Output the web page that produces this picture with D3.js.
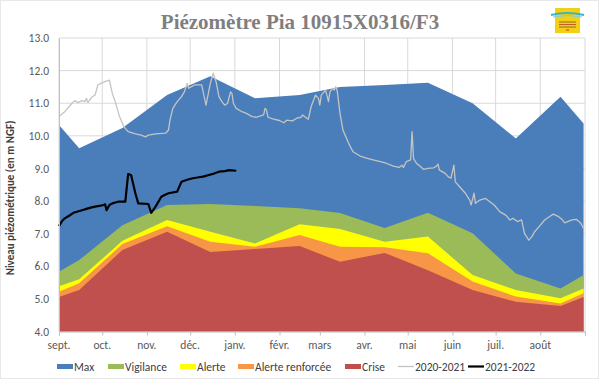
<!DOCTYPE html>
<html><head><meta charset="utf-8">
<script src="https://cdn.jsdelivr.net/npm/d3@7"></script>
<style>
html,body{margin:0;padding:0;background:#fff;}
svg{display:block;}
</style></head>
<body>
<svg id="chart" width="600" height="380"></svg>
<script>
// ---------- DATA ----------
const monthLabels = ['sept.','oct.','nov.','déc.','janv.','févr.','mars','avr.','mai','juin','juil.','août'];
const yTicks = [4,5,6,7,8,9,10,11,12,13];

const thresholdDates = ['2021-09-01','2021-09-15','2021-10-15','2021-11-15','2021-12-15','2022-01-15','2022-02-15','2022-03-15','2022-04-15','2022-05-15','2022-06-15','2022-07-15','2022-08-15','2022-08-31'];
const maxValues       = [10.33, 9.62, 10.24, 11.25, 11.83, 11.15, 11.25, 11.5, 11.56, 11.63, 11.0, 9.92, 11.2, 10.38];
const vigilanceValues = [5.83, 6.19, 7.26, 7.88, 7.91, 7.85, 7.78, 7.63, 7.17, 7.64, 7.01, 5.78, 5.32, 5.73];
const alerteValues    = [5.39, 5.6, 6.78, 7.42, 7.06, 6.7, 7.29, 7.14, 6.75, 6.91, 5.73, 5.27, 5.02, 5.32];
const renforceeValues = [5.22, 5.48, 6.68, 7.23, 6.75, 6.6, 6.96, 6.6, 6.58, 6.4, 5.53, 5.07, 4.86, 5.17];
const criseValues     = [5.06, 5.27, 6.5, 7.06, 6.44, 6.53, 6.62, 6.14, 6.41, 5.88, 5.27, 4.91, 4.78, 5.06];

const dates2021 = ['2020-09-01','2020-09-05','2020-09-10','2020-09-12','2020-09-14','2020-09-17','2020-09-19','2020-09-20','2020-09-21','2020-09-24','2020-09-26','2020-09-28','2020-09-30',
'2020-10-03','2020-10-05','2020-10-06','2020-10-08','2020-10-10','2020-10-13','2020-10-16','2020-10-19','2020-10-24','2020-10-28','2020-10-31',
'2020-11-02','2020-11-07','2020-11-14','2020-11-16','2020-11-17','2020-11-19','2020-11-22','2020-11-25','2020-11-27','2020-11-29','2020-11-30',
'2020-12-02','2020-12-04','2020-12-09','2020-12-12','2020-12-15','2020-12-17','2020-12-19','2020-12-21','2020-12-23','2020-12-25','2020-12-27','2020-12-29','2020-12-30','2020-12-31',
'2021-01-02','2021-01-06','2021-01-09','2021-01-13','2021-01-16','2021-01-21','2021-01-22','2021-01-23','2021-01-24','2021-01-28',
'2021-02-01','2021-02-04','2021-02-06','2021-02-10','2021-02-13','2021-02-16','2021-02-17','2021-02-19','2021-02-21','2021-02-23','2021-02-26','2021-02-28',
'2021-03-01','2021-03-02','2021-03-05','2021-03-07','2021-03-08','2021-03-10','2021-03-11','2021-03-12','2021-03-13','2021-03-15','2021-03-17','2021-03-21','2021-03-24','2021-03-29',
'2021-04-03','2021-04-07','2021-04-12','2021-04-16','2021-04-21','2021-04-25','2021-04-27','2021-04-28','2021-04-30',
'2021-05-03','2021-05-04','2021-05-05','2021-05-07','2021-05-10','2021-05-12','2021-05-15','2021-05-19','2021-05-21','2021-05-22','2021-05-23','2021-05-27','2021-05-29','2021-05-31',
'2021-06-02','2021-06-03','2021-06-06','2021-06-10','2021-06-13','2021-06-14','2021-06-16','2021-06-17','2021-06-20','2021-06-24','2021-06-27','2021-06-30',
'2021-07-04','2021-07-08','2021-07-11','2021-07-13','2021-07-16','2021-07-19','2021-07-21','2021-07-24','2021-07-26','2021-07-28','2021-07-31',
'2021-08-04','2021-08-08','2021-08-10','2021-08-13','2021-08-16','2021-08-18','2021-08-20','2021-08-23','2021-08-26','2021-08-29','2021-08-31'];
const values2021 = [10.59,10.74,11.0,11.08,11.02,11.08,11.05,11.15,11.02,11.2,11.25,11.56,11.61,
11.66,11.69,11.71,11.3,11.05,10.59,10.28,10.13,10.06,10.02,9.97,
10.02,10.06,10.08,10.18,10.48,10.84,11.05,11.2,11.35,11.61,11.46,
11.51,11.56,11.56,10.94,11.61,11.92,11.66,11.2,11.05,10.94,11.0,11.35,11.3,11.0,
10.84,10.74,10.69,10.59,10.57,10.64,10.84,10.79,10.57,10.51,
10.47,10.4,10.48,10.46,10.54,10.57,10.64,10.57,10.51,10.9,11.25,11.15,
10.94,11.25,11.4,11.05,11.35,11.46,11.4,11.51,11.4,10.69,10.18,9.77,9.51,9.38,
9.31,9.26,9.21,9.16,9.07,9.03,9.1,9.03,9.21,
9.26,10.13,9.31,9.16,9.05,8.97,9.0,9.02,9.07,9.13,8.95,8.85,8.75,8.7,
9.1,8.59,8.44,8.24,8.03,7.88,8.24,7.93,8.03,8.08,7.98,7.88,
7.67,7.57,7.42,7.47,7.37,7.42,7.01,6.8,6.9,7.06,7.21,
7.42,7.54,7.6,7.54,7.44,7.33,7.37,7.42,7.44,7.33,7.16];

const dates2022 = ['2021-09-01','2021-09-03','2021-09-05','2021-09-08','2021-09-11','2021-09-14','2021-09-17','2021-09-20','2021-09-23','2021-09-26','2021-09-29',
'2021-10-02','2021-10-03','2021-10-04','2021-10-06','2021-10-08','2021-10-12','2021-10-17','2021-10-19','2021-10-21','2021-10-24','2021-10-26',
'2021-11-02','2021-11-04','2021-11-07','2021-11-11','2021-11-14','2021-11-16','2021-11-22','2021-11-25','2021-11-30',
'2021-12-03','2021-12-07','2021-12-10','2021-12-14','2021-12-18','2021-12-21','2021-12-25','2021-12-28','2022-01-02'];
const values2022 = [7.23,7.38,7.47,7.55,7.64,7.68,7.72,7.76,7.8,7.83,7.85,
7.88,7.9,7.72,7.88,7.93,7.98,7.98,8.83,8.8,8.24,7.93,
7.91,7.64,7.83,8.13,8.2,8.24,8.29,8.59,8.67,
8.7,8.73,8.75,8.8,8.85,8.9,8.92,8.95,8.93];

// ---------- CHART ----------
const svg = d3.select('#chart');
const parse = d3.utcParse('%Y-%m-%d');
const font = "Carlito, Lato, 'Liberation Sans', sans-serif";
const x = d3.scaleUtc().domain([parse('2021-09-01'), parse('2022-09-01')]).range([59, 585]);
const y = d3.scaleLinear().domain([4, 13]).range([331.5, 38]);

// outer frame
svg.append('rect').attr('x',0.5).attr('y',0.5).attr('width',598).attr('height',378)
  .attr('fill','#fff').attr('stroke','#d0d0d0').attr('stroke-dasharray','1,1');

// title
svg.append('text').attr('x',300).attr('y',28.5).attr('text-anchor','middle')
  .attr('font-family',"'Liberation Serif', 'DejaVu Serif', serif").attr('font-weight','bold')
  .attr('font-size',21).attr('fill','#7f7f7f').text('Piézomètre Pia 10915X0316/F3');

// logo
const logo = svg.append('g');
logo.append('rect').attr('x',555).attr('y',8).attr('width',25).attr('height',25).attr('fill','#f4cf14');
logo.append('path').attr('d','M551,15 Q567,11 584,15').attr('fill','none').attr('stroke','#36b6c9').attr('stroke-width',2);
logo.append('path').attr('d','M553,17 Q567,14 582,17').attr('fill','none').attr('stroke','#7ccfd8').attr('stroke-width',1);
[22,24.5,27].forEach((yy,i)=>logo.append('line').attr('x1',559).attr('x2',576).attr('y1',yy).attr('y2',yy)
  .attr('stroke',i===1?'#c0392b':'#6b5a2a').attr('stroke-width',0.8));
logo.append('line').attr('x1',566).attr('x2',569).attr('y1',30).attr('y2',30).attr('stroke','#c0392b').attr('stroke-width',1);

// gridlines
const grid = svg.append('g');
grid.selectAll('line.h').data(yTicks).join('line')
  .attr('x1',59).attr('x2',585).attr('y1',d=>y(d)).attr('y2',d=>y(d))
  .attr('stroke','#d9d9d9').attr('stroke-width',1);
const monthTicks = d3.utcMonth.range(parse('2021-09-01'), parse('2022-09-02'));
grid.selectAll('line.v').data(monthTicks).join('line')
  .attr('x1',d=>x(d)).attr('x2',d=>x(d)).attr('y1',y(13)).attr('y2',y(4))
  .attr('stroke','#d9d9d9').attr('stroke-width',1);

// bands
const tDates = thresholdDates.map(parse);
const bands = [
  {name:'Max', vals:maxValues, color:'#4a7ebb'},
  {name:'Vigilance', vals:vigilanceValues, color:'#9bbb59'},
  {name:'Alerte', vals:alerteValues, color:'#ffff00'},
  {name:'Alerte renforcée', vals:renforceeValues, color:'#f79646'},
  {name:'Crise', vals:criseValues, color:'#c0504d'}
];
const area = d3.area().x(d=>x(d[0])).y0(y(4)).y1(d=>y(d[1]));
svg.append('g').selectAll('path').data(bands).join('path')
  .attr('d',b=>area(tDates.map((d,i)=>[d,b.vals[i]])))
  .attr('fill',b=>b.color);

// lines
const line = d3.line().x(d=>x(d[0])).y(d=>y(d[1]));
const pts2021 = dates2021.map((d,i)=>[d3.utcYear.offset(parse(d),1), values2021[i]]);
const pts2022 = dates2022.map((d,i)=>[parse(d), values2022[i]]);
svg.append('path').attr('d',line(pts2021)).attr('fill','none').attr('stroke','#c4c4c4').attr('stroke-width',1.3).attr('stroke-linejoin','round');
svg.append('path').attr('d',line(pts2022)).attr('fill','none').attr('stroke','#000').attr('stroke-width',2.2).attr('stroke-linejoin','round');

// x axis
const xAxis = svg.append('g').attr('transform',`translate(0,${y(4)})`)
  .call(d3.axisBottom(x).tickValues(monthTicks).tickSize(4).tickFormat(''));
xAxis.select('.domain').attr('stroke','#bfbfbf');
xAxis.selectAll('.tick line').attr('stroke','#bfbfbf');
svg.append('g').selectAll('text').data(monthTicks.slice(0,12)).join('text')
  .attr('x',d=>x(d)).attr('y',349).attr('text-anchor','middle')
  .attr('font-family',font).attr('font-size',11.5).attr('fill','#595959')
  .text((d,i)=>monthLabels[i]);

// y axis
const yAxis = svg.append('g').attr('transform','translate(59,0)')
  .call(d3.axisLeft(y).tickValues(yTicks).tickSize(0).tickPadding(10).tickFormat(d=>d.toFixed(1)));
yAxis.select('.domain').attr('stroke','#bfbfbf');
yAxis.selectAll('text').attr('font-family',font).attr('font-size',11.5).attr('fill','#595959');

svg.append('text').attr('transform','translate(14,198) rotate(-90)').attr('text-anchor','middle')
  .attr('font-family',font).attr('font-size',11).attr('font-weight','bold').attr('fill','#404040')
  .text('Niveau piézométrique (en m NGF)');

// legend
const legendItems = [
  {label:'Max', color:'#4a7ebb', type:'rect', x:57},
  {label:'Vigilance', color:'#9bbb59', type:'rect', x:108},
  {label:'Alerte', color:'#ffff00', type:'rect', x:180},
  {label:'Alerte renforcée', color:'#f79646', type:'rect', x:238},
  {label:'Crise', color:'#c0504d', type:'rect', x:345},
  {label:'2020-2021', color:'#c4c4c4', type:'line', w:1.3, x:398},
  {label:'2021-2022', color:'#000', type:'line', w:2.2, x:468}
];
const lg = svg.append('g').selectAll('g').data(legendItems).join('g');
lg.filter(d=>d.type==='rect').append('rect').attr('x',d=>d.x).attr('y',364).attr('width',16).attr('height',5).attr('fill',d=>d.color);
lg.filter(d=>d.type==='line').append('line').attr('x1',d=>d.x).attr('x2',d=>d.x+16).attr('y1',366.5).attr('y2',366.5)
  .attr('stroke',d=>d.color).attr('stroke-width',d=>d.w);
lg.append('text').attr('x',d=>d.x+17).attr('y',370.5).attr('font-family',font).attr('font-size',11.5).attr('fill','#404040')
  .text(d=>d.label);
</script>
</body></html>
